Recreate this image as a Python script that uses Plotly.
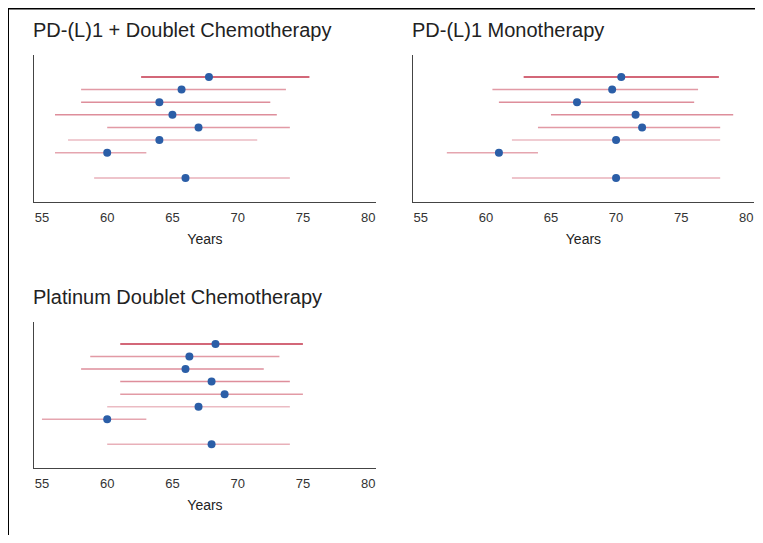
import plotly.graph_objects as go

# row positions (top to bottom, gap before the last row)
rows = [0, 1, 2, 3, 4, 5, 6, 8]

titles = ["PD-(L)1 + Doublet Chemotherapy", "PD-(L)1 Monotherapy", "Platinum Doublet Chemotherapy"]

combo_mid = [67.8, 65.7, 64.0, 65.0, 67.0, 64.0, 60.0, 66.0]
combo_lo = [62.6, 58.0, 58.0, 56.0, 60.0, 57.0, 56.0, 59.0]
combo_hi = [75.5, 73.7, 72.5, 73.0, 74.0, 71.5, 63.0, 74.0]

mono_mid = [70.4, 69.7, 67.0, 71.5, 72.0, 70.0, 61.0, 70.0]
mono_lo = [62.9, 60.5, 61.0, 65.0, 64.0, 62.0, 57.0, 62.0]
mono_hi = [77.9, 76.3, 76.0, 79.0, 78.0, 78.0, 64.0, 78.0]

chemo_mid = [68.3, 66.3, 66.0, 68.0, 69.0, 67.0, 60.0, 68.0]
chemo_lo = [61.0, 58.7, 58.0, 61.0, 61.0, 60.0, 55.0, 60.0]
chemo_hi = [75.0, 73.2, 72.0, 74.0, 75.0, 74.0, 63.0, 74.0]

line_alpha = [0.9, 0.45, 0.5, 0.5, 0.45, 0.3, 0.4, 0.35]

panels = [
    (combo_mid, combo_lo, combo_hi, [0.0348, 0.4926], [0.632, 0.911]),
    (mono_mid, mono_lo, mono_hi, [0.542, 0.9987], [0.632, 0.911]),
    (chemo_mid, chemo_lo, chemo_hi, [0.0348, 0.4926], [0.127, 0.404]),
]

fig = go.Figure()
layout = {}
for i, (mid, lo, hi, xd, yd) in enumerate(panels):
    n = "" if i == 0 else str(i + 1)
    for r, a, b, al in zip(rows, lo, hi, line_alpha):
        fig.add_trace(go.Scatter(
            x=[a, b], y=[r, r], mode="lines", xaxis="x" + n, yaxis="y" + n,
            line=dict(color=f"rgba(190,30,55,{al})", width=1.5),
            showlegend=False, hoverinfo="skip"))
    fig.add_trace(go.Scatter(
        x=mid, y=rows, mode="markers", xaxis="x" + n, yaxis="y" + n,
        marker=dict(color="#2b5ea7", size=8), showlegend=False))
    layout["xaxis" + n] = dict(
        domain=xd, anchor="y" + n, range=[54.39, 80.6], tickvals=[55, 60, 65, 70, 75, 80],
        showgrid=False, zeroline=False, showline=True, linecolor="#444", linewidth=1,
        ticks="outside", ticklen=3, tickcolor="white",
        title=dict(text="Years", standoff=10, font=dict(size=14)),
        tickfont=dict(size=13, color="#333"))
    layout["yaxis" + n] = dict(
        domain=yd, anchor="x" + n, range=[9.9, -1.75], showticklabels=False,
        showgrid=False, zeroline=False, showline=True, linecolor="#444", linewidth=1, ticks="")
    fig.add_annotation(text=titles[i], xref="paper", yref="paper", x=xd[0] - 0.004,
                       y=yd[1] + 0.022, xanchor="left", yanchor="bottom", showarrow=False,
                       font=dict(size=20, color="#222"))

fig.update_layout(
    width=747, height=527, margin=dict(l=0, r=0, t=0, b=0),
    paper_bgcolor="white", plot_bgcolor="white",
    font=dict(family="Liberation Sans, Arial, sans-serif", color="#222"),
    **layout)
fig.add_shape(type="line", xref="paper", yref="paper", x0=0.0, x1=0.0, y0=0, y1=1,
              line=dict(color="black", width=2))
fig.add_shape(type="line", xref="paper", yref="paper", x0=0.0, x1=1.0, y0=0.999, y1=0.999,
              line=dict(color="black", width=2))

fig.write_html("out.html")
